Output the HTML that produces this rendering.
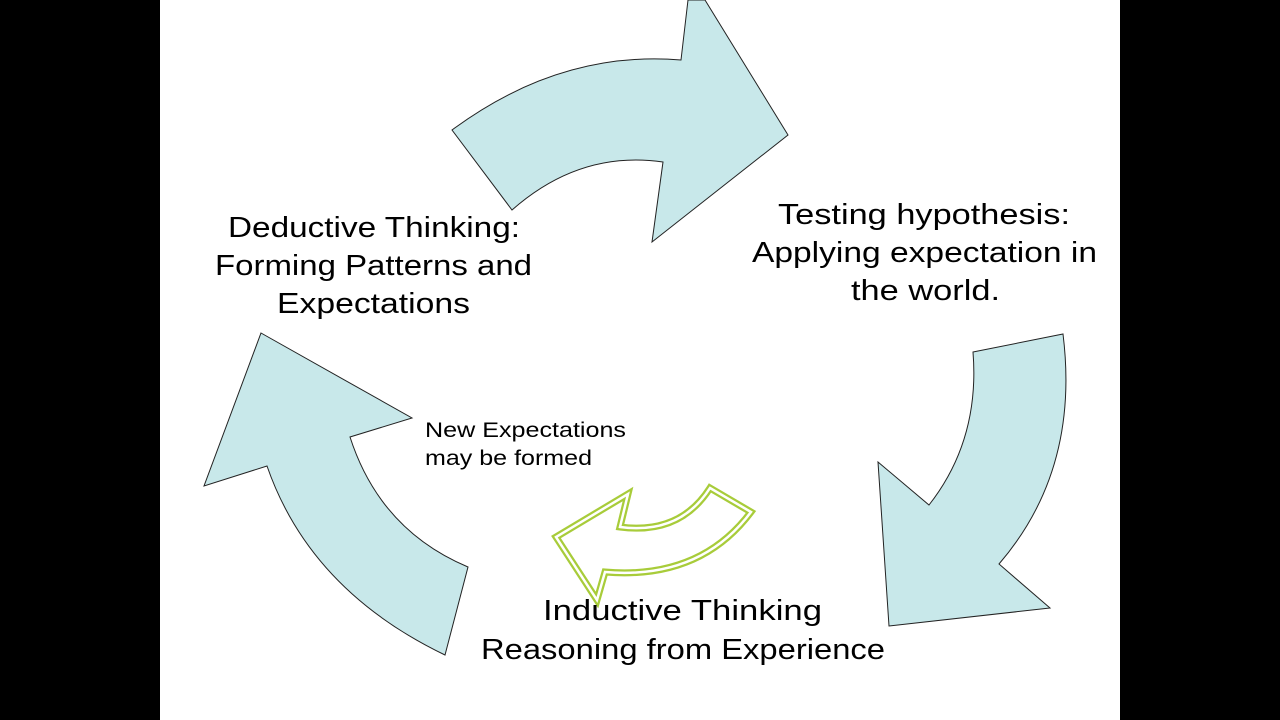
<!DOCTYPE html>
<html><head><meta charset="utf-8"><style>
html,body{margin:0;padding:0;background:#000;}
svg{display:block}
</style></head><body>
<svg width="1280" height="720" viewBox="0 0 1280 720" xmlns="http://www.w3.org/2000/svg">
<rect x="0" y="0" width="1280" height="720" fill="#000"/>
<rect x="160" y="0" width="960" height="720" fill="#fff"/>
<g fill="#c8e8ea" stroke="#222" stroke-width="1">
<path d="M452,130 Q560,50 681,60 L688,0 L705,0 L788,135 L652,242 L663,162 Q580,150 512,210 Z"/>
<path d="M973,352 L1063,334 Q1080,470 999,564 L1050,608 L889,626 L878,462 L929,505 Q980,440 973,352 Z"/>
<path d="M261,333 L412,418 L350,437 Q380,530 468,567 L445,655 Q310,590 267,466 L204,486 Z"/>
</g>
<g fill="none" stroke="#a8cc3a">
<path d="M710,488 L751,512 Q700,580 605,572 L597,600 L556,537 L628,494 L620,527 Q680,535 710,488 Z" stroke-width="7"/>
<path d="M710,488 L751,512 Q700,580 605,572 L597,600 L556,537 L628,494 L620,527 Q680,535 710,488 Z" stroke="#fff" stroke-width="2.5"/>
</g>
<g font-family="'Liberation Sans', sans-serif" fill="#000" font-size="29" lengthAdjust="spacingAndGlyphs">
<text x="228" y="237" textLength="292" lengthAdjust="spacingAndGlyphs">Deductive Thinking:</text>
<text x="215" y="275" textLength="317" lengthAdjust="spacingAndGlyphs">Forming Patterns and</text>
<text x="277" y="313" textLength="193" lengthAdjust="spacingAndGlyphs">Expectations</text>
<text x="778" y="224" textLength="292" lengthAdjust="spacingAndGlyphs">Testing hypothesis:</text>
<text x="752" y="262" textLength="345" lengthAdjust="spacingAndGlyphs">Applying expectation in</text>
<text x="851" y="300" textLength="149" lengthAdjust="spacingAndGlyphs">the world.</text>
<text x="543" y="620" textLength="279" lengthAdjust="spacingAndGlyphs">Inductive Thinking</text>
<text x="481" y="659" textLength="404" lengthAdjust="spacingAndGlyphs">Reasoning from Experience</text>
</g>
<g font-family="'Liberation Sans', sans-serif" fill="#000" font-size="21">
<text x="425" y="437" textLength="201" lengthAdjust="spacingAndGlyphs">New Expectations</text>
<text x="425" y="465" textLength="167" lengthAdjust="spacingAndGlyphs">may be formed</text>
</g>
</svg>
</body></html>
